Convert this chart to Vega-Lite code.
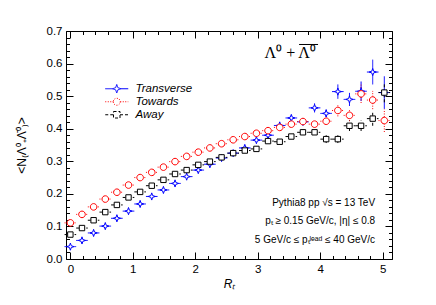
{
  "$schema": "https://vega.github.io/schema/vega-lite/v6.json",
  "width": 326,
  "height": 228,
  "autosize": {"type": "none"},
  "padding": {"left": 66, "top": 31, "right": 44, "bottom": 46},
  "background": "white",
  "config": {
    "view": {"stroke": "black", "strokeWidth": 1},
    "font": "Liberation Sans",
    "axis": {"grid": false, "domain": false, "tickColor": "black", "tickWidth": 1, "labelColor": "black", "titleColor": "black", "labelFont": "Liberation Sans", "titleFont": "Liberation Sans", "labelFontSize": 11.5, "titleFontWeight": "normal", "labelFlush": false, "labelOverlap": false}
  },
  "data": {"values": [
    {"s":"Transverse","rt":0,"v":0.038,"e":0.003},
    {"s":"Transverse","rt":0.186,"v":0.057,"e":0.003},
    {"s":"Transverse","rt":0.372,"v":0.080,"e":0.003},
    {"s":"Transverse","rt":0.559,"v":0.101,"e":0.003},
    {"s":"Transverse","rt":0.745,"v":0.125,"e":0.003},
    {"s":"Transverse","rt":0.931,"v":0.147,"e":0.003},
    {"s":"Transverse","rt":1.117,"v":0.169,"e":0.003},
    {"s":"Transverse","rt":1.303,"v":0.192,"e":0.003},
    {"s":"Transverse","rt":1.490,"v":0.212,"e":0.003},
    {"s":"Transverse","rt":1.676,"v":0.232,"e":0.003},
    {"s":"Transverse","rt":1.862,"v":0.253,"e":0.003},
    {"s":"Transverse","rt":2.048,"v":0.273,"e":0.003},
    {"s":"Transverse","rt":2.234,"v":0.291,"e":0.003},
    {"s":"Transverse","rt":2.421,"v":0.310,"e":0.003},
    {"s":"Transverse","rt":2.607,"v":0.325,"e":0.004},
    {"s":"Transverse","rt":2.793,"v":0.341,"e":0.004},
    {"s":"Transverse","rt":2.979,"v":0.365,"e":0.004},
    {"s":"Transverse","rt":3.165,"v":0.380,"e":0.004},
    {"s":"Transverse","rt":3.352,"v":0.410,"e":0.006},
    {"s":"Transverse","rt":3.538,"v":0.433,"e":0.008},
    {"s":"Transverse","rt":3.724,"v":0.421,"e":0.010},
    {"s":"Transverse","rt":3.910,"v":0.464,"e":0.014},
    {"s":"Transverse","rt":4.096,"v":0.447,"e":0.012},
    {"s":"Transverse","rt":4.283,"v":0.514,"e":0.022},
    {"s":"Transverse","rt":4.469,"v":0.490,"e":0.020},
    {"s":"Transverse","rt":4.655,"v":0.515,"e":0.030},
    {"s":"Transverse","rt":4.841,"v":0.574,"e":0.038},
    {"s":"Transverse","rt":5.027,"v":0.511,"e":0.050},
    {"s":"Towards","rt":0,"v":0.111,"e":0.003},
    {"s":"Towards","rt":0.186,"v":0.137,"e":0.003},
    {"s":"Towards","rt":0.372,"v":0.160,"e":0.003},
    {"s":"Towards","rt":0.559,"v":0.184,"e":0.003},
    {"s":"Towards","rt":0.745,"v":0.205,"e":0.003},
    {"s":"Towards","rt":0.931,"v":0.227,"e":0.003},
    {"s":"Towards","rt":1.117,"v":0.250,"e":0.003},
    {"s":"Towards","rt":1.303,"v":0.266,"e":0.003},
    {"s":"Towards","rt":1.490,"v":0.282,"e":0.003},
    {"s":"Towards","rt":1.676,"v":0.299,"e":0.003},
    {"s":"Towards","rt":1.862,"v":0.315,"e":0.003},
    {"s":"Towards","rt":2.048,"v":0.328,"e":0.003},
    {"s":"Towards","rt":2.234,"v":0.341,"e":0.003},
    {"s":"Towards","rt":2.421,"v":0.354,"e":0.003},
    {"s":"Towards","rt":2.607,"v":0.366,"e":0.003},
    {"s":"Towards","rt":2.793,"v":0.376,"e":0.003},
    {"s":"Towards","rt":2.979,"v":0.386,"e":0.005},
    {"s":"Towards","rt":3.165,"v":0.394,"e":0.005},
    {"s":"Towards","rt":3.352,"v":0.404,"e":0.005},
    {"s":"Towards","rt":3.538,"v":0.414,"e":0.005},
    {"s":"Towards","rt":3.724,"v":0.422,"e":0.010},
    {"s":"Towards","rt":3.910,"v":0.414,"e":0.010},
    {"s":"Towards","rt":4.096,"v":0.423,"e":0.010},
    {"s":"Towards","rt":4.283,"v":0.456,"e":0.018},
    {"s":"Towards","rt":4.469,"v":0.441,"e":0.018},
    {"s":"Towards","rt":4.655,"v":0.507,"e":0.028},
    {"s":"Towards","rt":4.841,"v":0.488,"e":0.028},
    {"s":"Towards","rt":5.027,"v":0.425,"e":0.035},
    {"s":"Away","rt":0,"v":0.075,"e":0.003},
    {"s":"Away","rt":0.186,"v":0.095,"e":0.003},
    {"s":"Away","rt":0.372,"v":0.119,"e":0.003},
    {"s":"Away","rt":0.559,"v":0.144,"e":0.003},
    {"s":"Away","rt":0.745,"v":0.166,"e":0.003},
    {"s":"Away","rt":0.931,"v":0.189,"e":0.003},
    {"s":"Away","rt":1.117,"v":0.206,"e":0.003},
    {"s":"Away","rt":1.303,"v":0.225,"e":0.003},
    {"s":"Away","rt":1.490,"v":0.243,"e":0.003},
    {"s":"Away","rt":1.676,"v":0.261,"e":0.003},
    {"s":"Away","rt":1.862,"v":0.273,"e":0.003},
    {"s":"Away","rt":2.048,"v":0.289,"e":0.003},
    {"s":"Away","rt":2.234,"v":0.299,"e":0.003},
    {"s":"Away","rt":2.421,"v":0.312,"e":0.003},
    {"s":"Away","rt":2.607,"v":0.325,"e":0.003},
    {"s":"Away","rt":2.793,"v":0.333,"e":0.003},
    {"s":"Away","rt":2.979,"v":0.338,"e":0.003},
    {"s":"Away","rt":3.165,"v":0.362,"e":0.003},
    {"s":"Away","rt":3.352,"v":0.360,"e":0.006},
    {"s":"Away","rt":3.538,"v":0.376,"e":0.006},
    {"s":"Away","rt":3.724,"v":0.389,"e":0.006},
    {"s":"Away","rt":3.910,"v":0.389,"e":0.006},
    {"s":"Away","rt":4.096,"v":0.368,"e":0.012},
    {"s":"Away","rt":4.283,"v":0.368,"e":0.012},
    {"s":"Away","rt":4.469,"v":0.409,"e":0.016},
    {"s":"Away","rt":4.655,"v":0.409,"e":0.016},
    {"s":"Away","rt":4.841,"v":0.431,"e":0.022},
    {"s":"Away","rt":5.027,"v":0.511,"e":0.030}
  ]},
  "layer": [
    {
      "mark": {"type": "errorbar", "thickness": 1},
      "encoding": {
        "x": {"field": "rt", "type": "quantitative", "scale": {"domain": [-0.07, 5.15], "nice": false, "zero": false},
              "axis": {"orient": "bottom", "values": [0,1,2,3,4,5], "format": "d", "ticks": false, "tickSize": 0, "labelPadding": 4, "title": "Rₜ", "titleFontStyle": "italic", "titleFontSize": 12, "titlePadding": 4}},
        "y": {"field": "v", "type": "quantitative", "scale": {"domain": [0, 0.7], "nice": false, "zero": false},
              "axis": {"orient": "left", "values": [0,0.1,0.2,0.3,0.4,0.5,0.6,0.7], "format": ".1f", "ticks": false, "tickSize": 0, "labelPadding": 4, "title": "<N₍Λ⁰₊Λ̄⁰₎>", "titleFontSize": 12, "titlePadding": 18}},
        "yError": {"field": "e"},
        "color": {"field": "s", "type": "nominal", "scale": {"domain": ["Transverse", "Towards", "Away"], "range": ["#0000ff", "#ff0000", "#000000"]}},
        "strokeDash": {"field": "s", "type": "nominal", "scale": {"domain": ["Transverse", "Towards", "Away"], "range": [[1,0],[1,1.5],[3,2]]}, "legend": null}
      }
    },
    {
      "mark": {"type": "rule", "xOffset": -5.8, "x2Offset": 5.8, "strokeWidth": 1},
      "encoding": {
        "x": {"field": "rt", "type": "quantitative", "axis": {"orient": "bottom", "values": [0,1,2,3,4,5], "tickSize": -7, "labels": false, "title": null}},
        "x2": {"field": "rt"},
        "y": {"field": "v", "type": "quantitative", "axis": {"orient": "left", "values": [0,0.1,0.2,0.3,0.4,0.5,0.6,0.7], "tickSize": -7, "labels": false, "title": null}},
        "color": {"field": "s", "type": "nominal"},
        "strokeDash": {"field": "s", "type": "nominal", "legend": null}
      }
    },
    {
      "transform": [{"filter": {"field": "s", "equal": "Transverse"}}],
      "mark": {"type": "point", "filled": false, "fill": "white", "fillOpacity": 1, "opacity": 1, "size": 36, "strokeWidth": 1,
               "shape": "M0,-1.2L0.3,-0.3L1.2,0L0.3,0.3L0,1.2L-0.3,0.3L-1.2,0L-0.3,-0.3Z"},
      "encoding": {
        "x": {"field": "rt", "type": "quantitative", "axis": {"orient": "bottom", "values": [0,0.2,0.4,0.6,0.8,1,1.2,1.4,1.6,1.8,2,2.2,2.4,2.6,2.8,3,3.2,3.4,3.6,3.8,4,4.2,4.4,4.6,4.8,5], "tickSize": -3.5, "labels": false, "title": null}},
        "y": {"field": "v", "type": "quantitative", "axis": {"orient": "left", "values": [0,0.02,0.04,0.06,0.08,0.1,0.12,0.14,0.16,0.18,0.2,0.22,0.24,0.26,0.28,0.3,0.32,0.34,0.36,0.38,0.4,0.42,0.44,0.46,0.48,0.5,0.52,0.54,0.56,0.58,0.6,0.62,0.64,0.66,0.68,0.7], "tickSize": -3.5, "labels": false, "title": null}},
        "color": {"field": "s", "type": "nominal"}
      }
    },
    {
      "transform": [{"filter": {"field": "s", "equal": "Towards"}}],
      "mark": {"type": "point", "filled": false, "fill": "white", "fillOpacity": 1, "opacity": 1, "size": 36, "strokeWidth": 1,
               "shape": "M-1.1,0A1.1,1.1 0 1,0 1.1,0A1.1,1.1 0 1,0 -1.1,0Z"},
      "encoding": {
        "x": {"field": "rt", "type": "quantitative", "axis": null},
        "y": {"field": "v", "type": "quantitative", "axis": null},
        "color": {"field": "s", "type": "nominal"}
      }
    },
    {
      "transform": [{"filter": {"field": "s", "equal": "Away"}}],
      "mark": {"type": "point", "filled": false, "fill": "white", "fillOpacity": 1, "opacity": 1, "size": 36, "strokeWidth": 1,
               "shape": "M-0.9,-0.9L0.9,-0.9L0.9,0.9L-0.9,0.9Z"},
      "encoding": {
        "x": {"field": "rt", "type": "quantitative", "axis": null},
        "y": {"field": "v", "type": "quantitative", "axis": null},
        "color": {"field": "s", "type": "nominal"}
      }
    },
    {
      "transform": [{"filter": {"field": "s", "equal": "none"}}],
      "mark": {"type": "point", "filled": false, "fill": "white", "fillOpacity": 1, "opacity": 1, "strokeWidth": 1},
      "encoding": {
        "color": {"field": "s", "type": "nominal",
                  "legend": {"orient": "none", "legendX": 45, "legendY": 52, "title": null, "padding": 0, "symbolSize": 100, "symbolStrokeWidth": 1, "symbolFillColor": "white",
                             "labelFont": "Liberation Sans", "labelFontStyle": "italic", "labelFontSize": 11.5, "labelColor": "black", "labelOffset": 13, "rowPadding": 0}},
        "shape": {"field": "s", "type": "nominal",
                  "scale": {"domain": ["Transverse", "Towards", "Away"], "range": [
                    "M-2.3,0L-0.85,0M0.85,0L2.3,0M0,-0.85L0.22,-0.22L0.85,0L0.22,0.22L0,0.85L-0.22,0.22L-0.85,0L-0.22,-0.22Z",
                    "M-2.3,0L-0.7,0M0.7,0L2.3,0M-0.7,0A0.7,0.7 0 1,0 0.7,0A0.7,0.7 0 1,0 -0.7,0Z",
                    "M-2.3,0L-0.65,0M0.65,0L2.3,0M-0.65,-0.65L0.65,-0.65L0.65,0.65L-0.65,0.65Z"]},
                  "legend": {"orient": "none", "legendX": 45, "legendY": 52, "title": null, "padding": 0, "symbolSize": 100, "symbolStrokeWidth": 1, "symbolFillColor": "white",
                             "labelFont": "Liberation Sans", "labelFontStyle": "italic", "labelFontSize": 11.5, "labelColor": "black", "labelOffset": 13, "rowPadding": 0}}
      }
    },
    {
      "data": {"values": [{"t": "Λ⁰ + Λ⁰"}]},
      "mark": {"type": "text", "font": "Liberation Serif", "fontSize": 16, "align": "center", "baseline": "middle", "color": "black"},
      "encoding": {
        "text": {"field": "t", "type": "nominal"},
        "x": {"datum": 3.52, "type": "quantitative", "axis": {"orient": "top", "values": [0,1,2,3,4,5], "tickSize": -7, "labels": false, "title": null}},
        "y": {"datum": 0.632, "type": "quantitative", "axis": {"orient": "right", "values": [0,0.1,0.2,0.3,0.4,0.5,0.6,0.7], "tickSize": -7, "labels": false, "title": null}}
      }
    },
    {
      "data": {"values": [{"t": "overline"}]},
      "mark": {"type": "rule", "strokeWidth": 1, "color": "black"},
      "encoding": {
        "x": {"datum": 3.662, "type": "quantitative", "axis": null},
        "x2": {"datum": 3.966},
        "y": {"datum": 0.6586, "type": "quantitative", "axis": null}
      }
    },
    {
      "data": {"values": [{"t": "Pythia8"}]},
      "mark": {"type": "text", "text": ["Pythia8 pp √s = 13 TeV", "pₜ ≥ 0.15 GeV/c, |η| ≤ 0.8", "5 GeV/c ≤  pₜˡᵉᵃᵈ ≤ 40 GeV/c"], "font": "Liberation Sans", "fontSize": 10, "align": "right", "baseline": "top", "lineHeight": 18.5, "color": "black"},
      "encoding": {
        "x": {"datum": 4.879, "type": "quantitative", "axis": {"orient": "top", "values": [0,0.2,0.4,0.6,0.8,1,1.2,1.4,1.6,1.8,2,2.2,2.4,2.6,2.8,3,3.2,3.4,3.6,3.8,4,4.2,4.4,4.6,4.8,5], "tickSize": -3.5, "labels": false, "title": null}},
        "y": {"datum": 0.188, "type": "quantitative", "axis": {"orient": "right", "values": [0,0.02,0.04,0.06,0.08,0.1,0.12,0.14,0.16,0.18,0.2,0.22,0.24,0.26,0.28,0.3,0.32,0.34,0.36,0.38,0.4,0.42,0.44,0.46,0.48,0.5,0.52,0.54,0.56,0.58,0.6,0.62,0.64,0.66,0.68,0.7], "tickSize": -3.5, "labels": false, "title": null}}
      }
    }
  ],
  "resolve": {"axis": {"x": "independent", "y": "independent"}}
}
